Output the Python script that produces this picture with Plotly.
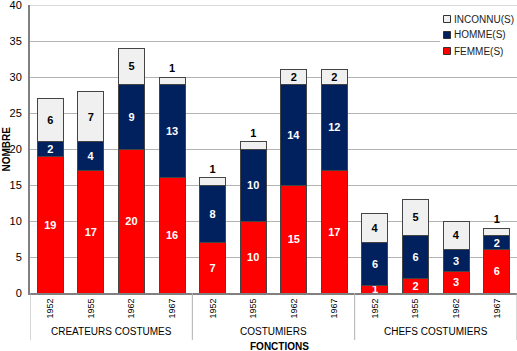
import plotly.graph_objects as go

groups = ["CREATEURS COSTUMES", "COSTUMIERS", "CHEFS COSTUMIERS"]
years = ["1952", "1955", "1962", "1967"]
femme = [19, 17, 20, 16, 7, 10, 15, 17, 1, 2, 3, 6]
homme = [2, 4, 9, 13, 8, 10, 14, 12, 6, 6, 3, 2]
inconnu = [6, 7, 5, 1, 1, 1, 2, 2, 4, 5, 4, 1]
y_ticks = [0, 5, 10, 15, 20, 25, 30, 35, 40]

tick_labels = [y for g in groups for y in years]
xpos = list(range(len(tick_labels)))

font = "Liberation Sans, Arial, sans-serif"
L, T, PW, PH = 30, 5, 487, 288


def px(x):
    return (x - L) / PW


def py(y):
    return (T + PH - y) / PH


fig = go.Figure()
series = [
    ("FEMME(S)", femme, "#ff0000", "white"),
    ("HOMME(S)", homme, "#00215e", "white"),
    ("INCONNU(S)", inconnu, "#f0f0f0", "black"),
]
for k, (name, vals, col, tcol) in enumerate(series):
    top = k == len(series) - 1
    pos = [("outside" if (top and v == 1) else "inside") for v in vals]
    fig.add_trace(go.Bar(
        x=xpos, y=vals, name=name, width=0.64, showlegend=False,
        marker=dict(color=col, line=dict(color="#444444", width=1)),
        text=[str(v) for v in vals], textposition=pos, textangle=0,
        insidetextanchor="middle", constraintext="none",
        textfont=dict(color=tcol, size=11, family=font, weight="bold"),
        cliponaxis=False,
    ))

# top gridline (plotly drops gridlines at the range end)
fig.add_shape(type="line", xref="paper", yref="y", x0=0, x1=1, y0=y_ticks[-1], y1=y_ticks[-1],
              line=dict(color="#b3b3b3", width=1), layer="below")

# group separators and group labels
ng = len(years)
for i in range(len(groups) + 1):
    xs = i * ng - 0.5
    fig.add_shape(type="line", xref="x", yref="paper", x0=xs, x1=xs,
                  y0=0, y1=py(340), line=dict(color="#b0b0b0", width=1))
for i, g in enumerate(groups):
    fig.add_annotation(x=i * ng + (ng - 1) / 2, y=py(331), xref="x", yref="paper",
                       text=g, showarrow=False, yanchor="middle",
                       font=dict(size=10, family=font, color="black"))
fig.add_annotation(x=px(279), y=py(346), xref="paper", yref="paper", text="<b>FONCTIONS</b>",
                   showarrow=False, yanchor="middle", font=dict(size=10, family=font, color="black"))
fig.add_annotation(x=px(5.5), y=0.5, xref="paper", yref="paper", text="<b>NOMBRE</b>",
                   showarrow=False, textangle=-90, xanchor="center", yanchor="middle",
                   font=dict(size=10, family=font, color="black"))

# legend (manual)
fig.add_shape(type="rect", xref="paper", yref="paper", x0=px(440), x1=1.0,
              y0=py(60), y1=py(9), fillcolor="white", line=dict(width=0), layer="above")
leg_rows = [("INCONNU(S)", "#f0f0f0", 19), ("HOMME(S)", "#00215e", 35), ("FEMME(S)", "#ff0000", 51)]
for name, col, yc in leg_rows:
    fig.add_shape(type="rect", xref="paper", yref="paper", x0=px(443.5), x1=px(450.5),
                  y0=py(yc + 3.5), y1=py(yc - 3.5), fillcolor=col,
                  line=dict(color="#333333", width=1), layer="above")
    fig.add_annotation(x=px(452), y=py(yc), xref="paper", yref="paper", text=name,
                       showarrow=False, xanchor="left", yanchor="middle",
                       font=dict(size=10, family=font, color="#222222"))

fig.update_layout(
    barmode="stack",
    width=517, height=351,
    margin=dict(l=L, r=0, t=T, b=351 - T - PH),
    paper_bgcolor="white", plot_bgcolor="white",
    font=dict(family=font, size=10, color="black"),
    showlegend=False,
    xaxis=dict(tickmode="array", tickvals=xpos, ticktext=tick_labels,
               tickangle=-90, range=[-0.5, 11.5], showgrid=False,
               showline=True, linecolor="#808080", linewidth=2,
               ticks="", tickfont=dict(size=9, family=font), automargin=False),
    yaxis=dict(range=[0, 40], tickmode="array", tickvals=y_ticks,
               showgrid=True, gridcolor="#b3b3b3", ticklabeloverflow="allow",
               ticklabelstandoff=4,
               gridwidth=1, showline=True, linecolor="#808080", linewidth=2,
               zeroline=False, tickfont=dict(size=11, family=font), automargin=False),
)

fig.write_html("out.html")
